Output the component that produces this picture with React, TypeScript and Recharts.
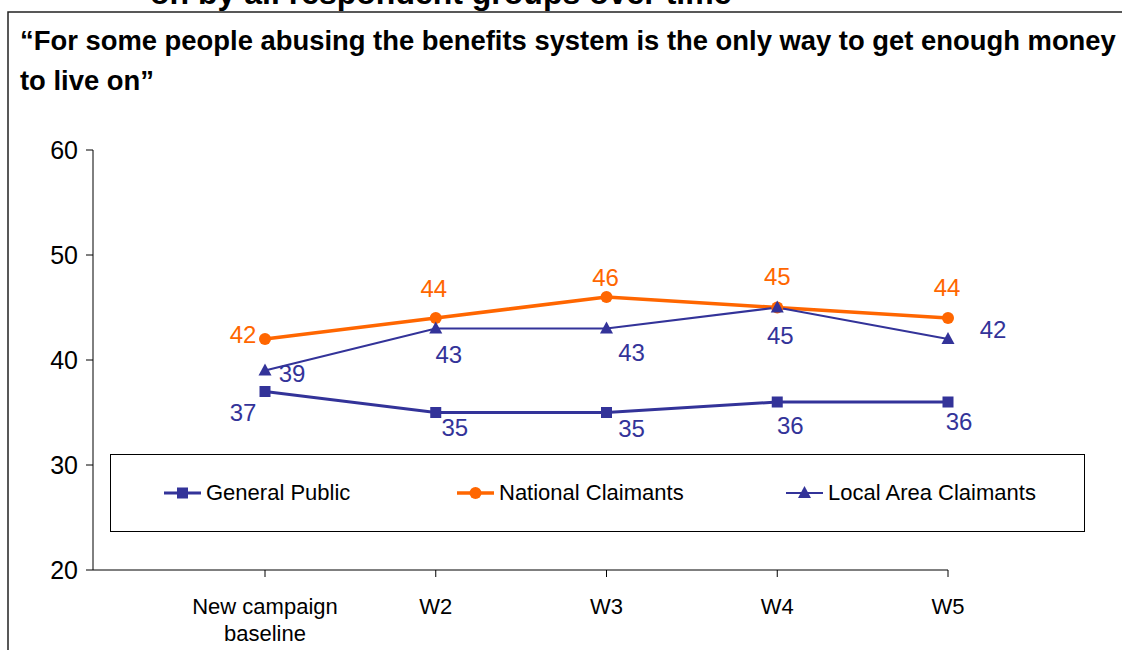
import { LineChart, Line, XAxis, YAxis, Legend, LabelList } from "recharts";

const waves = ["New campaign\nbaseline", "W2", "W3", "W4", "W5"];
const generalPublic = [37, 35, 35, 36, 36];
const nationalClaimants = [42, 44, 46, 45, 44];
const localAreaClaimants = [39, 43, 43, 45, 42];
const yTicks = [20, 30, 40, 50, 60];

const BLUE = "#333399";
const ORANGE = "#FF6600";
const FONT = "'Liberation Sans', Arial, sans-serif";

// label nudges, same order as the waves
const gpShift = [[-22, 21], [19, 15], [25, 16], [13, 23], [11, 19]];
const ncShift = [[-22, -5], [-2, -30], [-1, -20], [0, -31], [-1, -31]];
const laShift = [[27, 3], [13, 26], [25, 24], [3, 28], [45, -10]];

const data = waves.map((w, i) => ({
  wave: w,
  gp: generalPublic[i],
  nc: nationalClaimants[i],
  la: localAreaClaimants[i],
}));

const series = [
  { key: "gp", name: "General Public", color: BLUE, width: 3, shape: "square" },
  { key: "nc", name: "National Claimants", color: ORANGE, width: 3.5, shape: "circle" },
  { key: "la", name: "Local Area Claimants", color: BLUE, width: 2, shape: "triangle" },
];

function marker(shape: string, cx: number, cy: number, color: string, key?: string) {
  if (shape === "square")
    return <rect key={key} x={cx - 5.5} y={cy - 5.5} width={11} height={11} fill={color} />;
  if (shape === "circle") return <circle key={key} cx={cx} cy={cy} r={6} fill={color} />;
  return (
    <polygon
      key={key}
      points={`${cx},${cy - 7} ${cx - 6.5},${cy + 5} ${cx + 6.5},${cy + 5}`}
      fill={color}
    />
  );
}

const makeDot = (shape: string, color: string) => (p: any) =>
  marker(shape, p.cx, p.cy, color, `${shape}-${p.index}`);

const makeLabel = (shift: number[][], color: string) => (p: any) => {
  const s = shift[p.index] || [0, 0];
  return (
    <text
      x={Number(p.x) + s[0]}
      y={Number(p.y) + s[1]}
      textAnchor="middle"
      dominantBaseline="central"
      fill={color}
      fontSize={24}
      fontFamily={FONT}
    >
      {p.value}
    </text>
  );
};

const WaveTick = (p: any) => {
  const lines = String(p.payload.value).split("\n");
  return (
    <g>
      {lines.map((t, i) => (
        <text
          key={i}
          x={p.x}
          y={p.y + 27 + i * 27}
          textAnchor="middle"
          dominantBaseline="central"
          fontSize={22}
          fontFamily={FONT}
          fill="#000"
        >
          {t}
        </text>
      ))}
    </g>
  );
};

const legendLeft = [53, 346, 675];

const renderLegend = () => (
  <div style={{ position: "relative", width: "100%", height: "100%" }}>
    {series.map((s, i) => (
      <div
        key={s.key}
        style={{
          position: "absolute",
          left: legendLeft[i],
          top: 0,
          height: 76,
          display: "flex",
          alignItems: "center",
          fontFamily: FONT,
          fontSize: 22,
          color: "#000",
          whiteSpace: "nowrap",
        }}
      >
        <svg width={37} height={16} style={{ marginRight: 5 }}>
          <line x1={0} y1={8} x2={37} y2={8} stroke={s.color} strokeWidth={s.width} />
          {marker(s.shape, 18.5, 8, s.color)}
        </svg>
        {s.name}
      </div>
    ))}
  </div>
);

export default function App() {
  return (
    <div
      style={{
        position: "absolute",
        left: 0,
        top: 0,
        width: 1122,
        height: 650,
        overflow: "hidden",
        background: "#fff",
      }}
    >
      <svg width={1122} height={650} style={{ position: "absolute", left: 0, top: 0 }}>
        <text x={150} y={4} fontSize={32} fontWeight="bold" fontFamily={FONT} fill="#000">
          on by all respondent groups over time
        </text>
        <rect x={8} y={12} width={1300} height={800} fill="none" stroke="#222" strokeWidth={1.5} />
        <text x={20} y={50} fontSize={27.4} fontWeight="bold" fontFamily={FONT} fill="#000">
          “For some people abusing the benefits system is the only way to get enough money
        </text>
        <text x={20} y={90} fontSize={27.4} fontWeight="bold" fontFamily={FONT} fill="#000">
          to live on”
        </text>
      </svg>
      <div style={{ position: "absolute", left: 0, top: 0 }}>
        <LineChart
          width={1122}
          height={650}
          data={data}
          margin={{ top: 150, right: 174, left: 0, bottom: 0 }}
        >
          <XAxis
            dataKey="wave"
            padding={{ left: 172, right: 0 }}
            height={80}
            tickSize={7}
            axisLine={{ stroke: "#000" }}
            tickLine={{ stroke: "#000" }}
            tick={<WaveTick />}
            interval={0}
          />
          <YAxis
            domain={[20, 60]}
            ticks={yTicks}
            width={93}
            tickSize={7}
            tickMargin={8}
            axisLine={{ stroke: "#000" }}
            tickLine={{ stroke: "#000" }}
            tick={{ fill: "#000", fontSize: 25, fontFamily: FONT }}
            interval={0}
          />
          <Legend
            layout="horizontal"
            verticalAlign="middle"
            content={renderLegend}
            wrapperStyle={{
              left: 110,
              top: 454,
              width: 975,
              height: 78,
              border: "1px solid #000",
              boxSizing: "border-box",
              background: "#fff",
            }}
          />
          <Line
            dataKey="gp"
            name="General Public"
            stroke={BLUE}
            strokeWidth={3}
            dot={makeDot("square", BLUE)}
            activeDot={false}
            isAnimationActive={false}
          >
            <LabelList dataKey="gp" content={makeLabel(gpShift, BLUE)} />
          </Line>
          <Line
            dataKey="nc"
            name="National Claimants"
            stroke={ORANGE}
            strokeWidth={3.5}
            dot={makeDot("circle", ORANGE)}
            activeDot={false}
            isAnimationActive={false}
          >
            <LabelList dataKey="nc" content={makeLabel(ncShift, ORANGE)} />
          </Line>
          <Line
            dataKey="la"
            name="Local Area Claimants"
            stroke={BLUE}
            strokeWidth={2}
            dot={makeDot("triangle", BLUE)}
            activeDot={false}
            isAnimationActive={false}
          >
            <LabelList dataKey="la" content={makeLabel(laShift, BLUE)} />
          </Line>
        </LineChart>
      </div>
    </div>
  );
}
